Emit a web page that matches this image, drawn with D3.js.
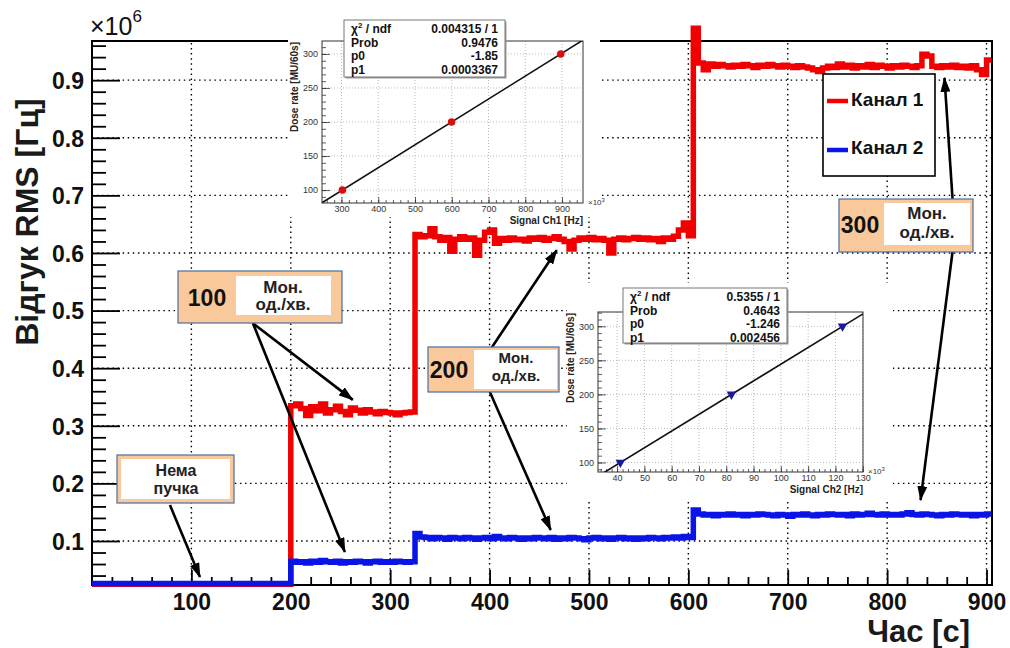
<!DOCTYPE html>
<html>
<head>
<meta charset="utf-8">
<script src="https://cdn.jsdelivr.net/npm/d3@7"></script>
<style>
  body { margin: 0; background: #fff; }
  svg { display: block; font-family: "Liberation Sans", Arial, Helvetica, sans-serif; }
</style>
</head>
<body>
<svg id="chart" width="1010" height="648"></svg>
<script>
/* ---- data (RMS in units of 10^6 Hz, 5 s bins starting at 0 s) ---- */
var binStarts = d3.range(0, 905, 5);
var timeEnd = 905;

var ch1Rms = [
  // 0 - 195 s, no beam
  0.025, 0.025, 0.025, 0.025, 0.025, 0.025, 0.025, 0.025, 0.025, 0.025,
  0.025, 0.025, 0.025, 0.025, 0.025, 0.025, 0.025, 0.025, 0.025, 0.025,
  0.025, 0.025, 0.025, 0.025, 0.025, 0.025, 0.025, 0.025, 0.025, 0.025,
  0.025, 0.025, 0.025, 0.025, 0.025, 0.025, 0.025, 0.025, 0.025, 0.025,
  // 200 - 320 s, 100 MU/min
  0.335, 0.338, 0.330, 0.318, 0.333, 0.326, 0.338, 0.322, 0.328, 0.334,
  0.325, 0.319, 0.331, 0.327, 0.322, 0.328, 0.324, 0.321, 0.325, 0.323,
  0.322, 0.319, 0.322, 0.323, 0.324,
  // 325 - 600 s, 200 MU/min
  0.632, 0.628, 0.630, 0.642, 0.628, 0.622, 0.627, 0.603, 0.624, 0.628,
  0.624, 0.626, 0.596, 0.622, 0.636, 0.640, 0.617, 0.625, 0.622, 0.626,
  0.623, 0.624, 0.621, 0.626, 0.624, 0.627, 0.622, 0.625, 0.628, 0.624,
  0.620, 0.607, 0.622, 0.626, 0.624, 0.627, 0.623, 0.625, 0.622, 0.600,
  0.624, 0.626, 0.623, 0.625, 0.627, 0.624, 0.626, 0.623, 0.625, 0.620,
  0.626, 0.624, 0.629, 0.640, 0.652, 0.630,
  // 605 - 900 s, 300 MU/min
  0.990, 0.930, 0.918, 0.928, 0.924, 0.927, 0.925, 0.923, 0.926, 0.924,
  0.927, 0.925, 0.922, 0.926, 0.924, 0.927, 0.925, 0.923, 0.926, 0.924,
  0.922, 0.925, 0.923, 0.921, 0.918, 0.915, 0.921, 0.924, 0.922, 0.928,
  0.923, 0.926, 0.921, 0.925, 0.923, 0.927, 0.922, 0.926, 0.924, 0.921,
  0.925, 0.923, 0.926, 0.924, 0.922, 0.925, 0.945, 0.942, 0.924, 0.922,
  0.925, 0.923, 0.926, 0.922, 0.924, 0.921, 0.925, 0.918, 0.910, 0.935
];

var ch2Rms = [
  0.026, 0.026, 0.026, 0.026, 0.026, 0.026, 0.026, 0.026, 0.026, 0.026,
  0.026, 0.026, 0.026, 0.026, 0.026, 0.026, 0.026, 0.026, 0.026, 0.026,
  0.026, 0.026, 0.026, 0.026, 0.026, 0.026, 0.026, 0.026, 0.026, 0.026,
  0.026, 0.026, 0.026, 0.026, 0.026, 0.026, 0.026, 0.026, 0.026, 0.026,
  0.065, 0.063, 0.064, 0.062, 0.065, 0.063, 0.066, 0.064, 0.063, 0.065,
  0.062, 0.064, 0.063, 0.065, 0.064, 0.062, 0.064, 0.065, 0.063, 0.064,
  0.063, 0.065, 0.064, 0.063, 0.064,
  0.113, 0.107, 0.106, 0.104, 0.106, 0.105, 0.103, 0.106, 0.105, 0.104,
  0.106, 0.105, 0.103, 0.105, 0.106, 0.104, 0.108, 0.105, 0.104, 0.106,
  0.105, 0.103, 0.105, 0.104, 0.106, 0.105, 0.104, 0.106, 0.103, 0.105,
  0.104, 0.106, 0.105, 0.104, 0.102, 0.105, 0.106, 0.104, 0.105, 0.103,
  0.105, 0.106, 0.104, 0.105, 0.103, 0.105, 0.104, 0.106, 0.105, 0.104,
  0.106, 0.105, 0.107, 0.105, 0.108, 0.106,
  0.154, 0.147, 0.145, 0.146, 0.144, 0.146, 0.145, 0.147, 0.145, 0.146,
  0.144, 0.146, 0.145, 0.147, 0.146, 0.145, 0.144, 0.146, 0.145, 0.143,
  0.146, 0.145, 0.147, 0.145, 0.144, 0.146, 0.145, 0.147, 0.146, 0.145,
  0.146, 0.144, 0.147, 0.145, 0.146, 0.148, 0.146, 0.145, 0.147, 0.145,
  0.146, 0.145, 0.147, 0.149, 0.146, 0.145, 0.147, 0.146, 0.145, 0.144,
  0.146, 0.145, 0.147, 0.146, 0.145, 0.146, 0.144, 0.146, 0.145, 0.147
];

var seriesNames = ["Канал 1", "Канал 2"];
var xTickValues = [100, 200, 300, 400, 500, 600, 700, 800, 900];
var yTickValues = [0.1, 0.2, 0.3, 0.4, 0.5, 0.6, 0.7, 0.8, 0.9];

/* calibration insets: signal in 10^3 Hz vs dose rate in MU/60s */
var doseRates = [100, 200, 300];
var ch1Signal = [302.5, 599.5, 896.5];
var ch2Signal = [41.2, 81.9, 122.6];
var ch1Fit = { p0: -1.85, p1: 0.0003367 };
var ch2Fit = { p0: -1.246, p1: 0.002456 };
var statLabels = ["χ² / ndf", "Prob", "p0", "p1"];
var ch1Stats = ["0.004315 / 1", "0.9476", "-1.85", "0.0003367"];
var ch2Stats = ["0.5355 / 1", "0.4643", "-1.246", "0.002456"];

/* ---- layout ---- */
var svg = d3.select("#chart");
svg.append("rect").attr("width", 1010).attr("height", 648).attr("fill", "#fff");

var x = d3.scaleLinear().domain([0, 905.5]).range([92, 992]);
var y = d3.scaleLinear().domain([0.0236, 0.968]).range([585, 41]);

var RED = "#f00000", BLUE = "#0a14e6";

/* grid */
var grid = svg.append("g").attr("stroke", "#000").attr("stroke-width", 1.4)
  .attr("stroke-dasharray", "1.5 3.6");
grid.selectAll(".vg").data(xTickValues).enter().append("line")
  .attr("x1", function(d) { return x(d); }).attr("x2", function(d) { return x(d); })
  .attr("y1", y.range()[0]).attr("y2", y.range()[1]);
grid.selectAll(".hg").data(yTickValues).enter().append("line")
  .attr("y1", function(d) { return y(d); }).attr("y2", function(d) { return y(d); })
  .attr("x1", x.range()[0]).attr("x2", x.range()[1]);

/* axes */
function styleAxis(g) {
  g.select(".domain").remove();
  g.selectAll("line").attr("stroke", "#000").attr("stroke-width", 1.8);
}
var xMinor = d3.range(20, 905, 20).filter(function(d) { return d % 100 !== 0; });
var yMinor = d3.range(4, 97, 2).map(function(d) { return d / 100; })
  .filter(function(d) { return Math.round(d * 100) % 10 !== 0; });

svg.append("g").attr("transform", "translate(0,585)")
  .call(d3.axisBottom(x).tickValues(xMinor).tickSize(-8).tickFormat(""))
  .call(styleAxis);
var gx = svg.append("g").attr("transform", "translate(0,585)")
  .call(d3.axisBottom(x).tickValues(xTickValues).tickSize(-15).tickPadding(0).tickFormat(d3.format("d")))
  .call(styleAxis);
gx.selectAll("text").attr("y", 25).attr("dy", 0)
  .attr("font-size", 23).attr("font-weight", "bold").attr("fill", "#111")
  .attr("font-family", "Liberation Sans, Arial, sans-serif");

svg.append("g").attr("transform", "translate(92,0)")
  .call(d3.axisLeft(y).tickValues(yMinor).tickSize(-14).tickFormat(""))
  .call(styleAxis);
var gy = svg.append("g").attr("transform", "translate(92,0)")
  .call(d3.axisLeft(y).tickValues(yTickValues).tickSize(-28).tickPadding(0).tickFormat(d3.format(".1f")))
  .call(styleAxis);
gy.selectAll("text").attr("x", -8).attr("dy", "0.36em")
  .attr("font-size", 23).attr("font-weight", "bold").attr("fill", "#111")
  .attr("font-family", "Liberation Sans, Arial, sans-serif");

/* frame */
svg.append("rect").attr("x", x.range()[0]).attr("y", y.range()[1])
  .attr("width", x.range()[1] - x.range()[0]).attr("height", y.range()[0] - y.range()[1])
  .attr("fill", "none").attr("stroke", "#000").attr("stroke-width", 2);

/* exponent and axis titles */
var expo = svg.append("text").attr("x", 90).attr("y", 35).attr("font-size", 25).attr("fill", "#111");
expo.append("tspan").text("×10");
expo.append("tspan").attr("font-size", 17).attr("dy", -13).text("6");

svg.append("text").attr("transform", "translate(38,222) rotate(-90)")
  .attr("text-anchor", "middle").attr("font-size", 32).attr("font-weight", "bold").attr("fill", "#1a1a1a")
  .text("Відгук RMS [Гц]");
svg.append("text").attr("x", 970).attr("y", 642).attr("text-anchor", "end")
  .attr("font-size", 31).attr("font-weight", "bold").attr("fill", "#1a1a1a")
  .text("Час [с]");

/* step histograms */
function stepPoints(vals) {
  var pts = binStarts.map(function(t, i) { return [t, vals[i]]; });
  pts.push([timeEnd, vals[vals.length - 1]]);
  return pts;
}
var line = d3.line().x(function(d) { return x(d[0]); }).y(function(d) { return y(d[1]); })
  .curve(d3.curveStepAfter);
svg.append("path").datum(stepPoints(ch1Rms)).attr("d", line)
  .attr("fill", "none").attr("stroke", RED).attr("stroke-width", 5.5);
svg.append("path").datum(stepPoints(ch2Rms)).attr("d", line)
  .attr("fill", "none").attr("stroke", BLUE).attr("stroke-width", 5.5);

/* legend */
var leg = svg.append("g");
leg.append("rect").attr("x", 823).attr("y", 74).attr("width", 112).attr("height", 102)
  .attr("fill", "#fff").attr("stroke", "#000").attr("stroke-width", 1.6);
[RED, BLUE].forEach(function(c, i) {
  leg.append("line").attr("x1", 827).attr("x2", 848).attr("y1", 101 + i * 49).attr("y2", 101 + i * 49)
    .attr("stroke", c).attr("stroke-width", 4.5);
  leg.append("text").attr("x", 851).attr("y", 106 + i * 48).attr("font-size", 19)
    .attr("font-weight", "bold").attr("fill", "#111").text(seriesNames[i]);
});

/* calibration insets */
function drawInset(cfg) {
  var g = svg.append("g");
  g.append("rect").attr("x", cfg.pad[0]).attr("y", cfg.pad[1])
    .attr("width", cfg.pad[2]).attr("height", cfg.pad[3]).attr("fill", "#fff");

  var sx = d3.scaleLinear().domain(cfg.xDomain).range([cfg.left, cfg.right]);
  var sy = d3.scaleLinear().domain(cfg.yDomain).range([cfg.bottom, cfg.top]);

  var gg = g.append("g").attr("stroke", "#aaa").attr("stroke-width", 0.8).attr("stroke-dasharray", "1 2");
  cfg.xTicks.forEach(function(d) {
    gg.append("line").attr("x1", sx(d)).attr("x2", sx(d)).attr("y1", cfg.top).attr("y2", cfg.bottom);
  });
  cfg.yTicks.forEach(function(d) {
    gg.append("line").attr("y1", sy(d)).attr("y2", sy(d)).attr("x1", cfg.left).attr("x2", cfg.right);
  });

  function thin(a) {
    a.select(".domain").remove();
    a.selectAll("line").attr("stroke", "#333").attr("stroke-width", 0.8);
    a.selectAll("text").attr("font-size", 9).attr("fill", "#333")
      .attr("font-family", "Liberation Sans, Arial, sans-serif");
  }
  g.append("g").attr("transform", "translate(0," + cfg.bottom + ")")
    .call(d3.axisBottom(sx).tickValues(cfg.xMinor).tickSize(-3).tickFormat("")).call(thin);
  g.append("g").attr("transform", "translate(0," + cfg.bottom + ")")
    .call(d3.axisBottom(sx).tickValues(cfg.xTicks).tickSize(-6).tickPadding(3)).call(thin);
  g.append("g").attr("transform", "translate(" + cfg.left + ",0)")
    .call(d3.axisLeft(sy).tickValues(cfg.yMinor).tickSize(-4).tickFormat("")).call(thin);
  g.append("g").attr("transform", "translate(" + cfg.left + ",0)")
    .call(d3.axisLeft(sy).tickValues(cfg.yTicks).tickSize(-8).tickPadding(4)).call(thin);

  g.append("rect").attr("x", cfg.left).attr("y", cfg.top)
    .attr("width", cfg.right - cfg.left).attr("height", cfg.bottom - cfg.top)
    .attr("fill", "none").attr("stroke", "#333").attr("stroke-width", 1);

  var clipId = "clip" + cfg.id;
  g.append("clipPath").attr("id", clipId).append("rect")
    .attr("x", cfg.left).attr("y", cfg.top)
    .attr("width", cfg.right - cfg.left).attr("height", cfg.bottom - cfg.top);
  var fx = cfg.xDomain;
  g.append("line").attr("clip-path", "url(#" + clipId + ")")
    .attr("x1", sx(fx[0])).attr("y1", sy(cfg.fit.p0 + cfg.fit.p1 * 1000 * fx[0]))
    .attr("x2", sx(fx[1])).attr("y2", sy(cfg.fit.p0 + cfg.fit.p1 * 1000 * fx[1]))
    .attr("stroke", "#111").attr("stroke-width", 1.6);

  var sym = d3.symbol().type(cfg.marker === "circle" ? d3.symbolCircle : d3.symbolTriangle)
    .size(cfg.marker === "circle" ? 44 : 40);
  g.selectAll(".pt").data(cfg.signal).enter().append("path")
    .attr("d", sym)
    .attr("transform", function(d, i) {
      return "translate(" + sx(d) + "," + sy(doseRates[i]) + ")" + (cfg.marker === "circle" ? "" : " rotate(180)");
    })
    .attr("fill", cfg.color);

  var ex = g.append("text").attr("x", cfg.right + 5).attr("y", cfg.bottom + 2).attr("font-size", 8).attr("fill", "#333");
  ex.append("tspan").text("×10");
  ex.append("tspan").attr("font-size", 6).attr("dy", -3).text("3");

  g.append("text").attr("x", cfg.right).attr("y", cfg.bottom + 21).attr("text-anchor", "end")
    .attr("font-size", 10).attr("font-weight", "bold").attr("fill", "#222").text(cfg.xTitle);
  g.append("text").attr("transform", "translate(" + (cfg.left - 24) + "," + (cfg.top + 1) + ") rotate(-90)")
    .attr("text-anchor", "end").attr("font-size", 10).attr("font-weight", "bold").attr("fill", "#222")
    .text("Dose rate [MU/60s]");

  var b = cfg.statBox;
  g.append("rect").attr("x", b[0] + 1.5).attr("y", b[1] + 1.5).attr("width", b[2]).attr("height", b[3]).attr("fill", "#999");
  g.append("rect").attr("x", b[0]).attr("y", b[1]).attr("width", b[2]).attr("height", b[3])
    .attr("fill", "#fff").attr("stroke", "#777").attr("stroke-width", 1);
  statLabels.forEach(function(lbl, i) {
    var yy = b[1] + 13 + i * 13.5;
    var t = g.append("text").attr("x", b[0] + 7).attr("y", yy).attr("font-size", 12)
      .attr("font-weight", "bold").attr("fill", "#111");
    if (i === 0) {
      t.append("tspan").text("χ");
      t.append("tspan").attr("font-size", 8).attr("dy", -5).text("2");
      t.append("tspan").attr("dy", 5).text(" / ndf");
    } else {
      t.text(lbl);
    }
    g.append("text").attr("x", b[0] + b[2] - 7).attr("y", yy).attr("text-anchor", "end")
      .attr("font-size", 12).attr("font-weight", "bold").attr("fill", "#111").text(cfg.stats[i]);
  });
}

drawInset({
  id: 1, pad: [288, 12, 312, 205],
  left: 322, right: 583, top: 41, bottom: 203,
  xDomain: [247, 957], yDomain: [81, 319],
  xTicks: [300, 400, 500, 600, 700, 800, 900],
  xMinor: d3.range(260, 957, 20),
  yTicks: [100, 150, 200, 250, 300],
  yMinor: d3.range(90, 319, 10),
  signal: ch1Signal, fit: ch1Fit, color: "#d81010", marker: "circle",
  xTitle: "Signal Ch1 [Hz]", stats: ch1Stats, statBox: [344, 20, 161, 57]
});
drawInset({
  id: 2, pad: [567, 283, 326, 217],
  left: 598, right: 863, top: 312, bottom: 472,
  xDomain: [33, 130.1], yDomain: [86, 321],
  xTicks: [40, 50, 60, 70, 80, 90, 100, 110, 120, 130],
  xMinor: d3.range(34, 130.1, 2),
  yTicks: [100, 150, 200, 250, 300],
  yMinor: d3.range(90, 321, 10),
  signal: ch2Signal, fit: ch2Fit, color: "#1a1aa0", marker: "triangle",
  xTitle: "Signal Ch2 [Hz]", stats: ch2Stats, statBox: [623, 288, 164, 55]
});

/* annotation arrows (data coordinates: time, RMS) */
var arrows = [
  [[78.4, 0.1625], [108.6, 0.0375]],
  [[161.9, 0.478], [262.4, 0.345]],
  [[161.9, 0.478], [254.4, 0.081]],
  [[402.2, 0.436], [467.6, 0.605]],
  [[400.2, 0.359], [461.5, 0.119]],
  [[865.8, 0.694], [857.7, 0.904]],
  [[865.8, 0.602], [833.6, 0.171]]
];
svg.append("defs").append("marker").attr("id", "head")
  .attr("viewBox", "0 -5 15 10").attr("refX", 14).attr("refY", 0)
  .attr("markerWidth", 15).attr("markerHeight", 10).attr("markerUnits", "userSpaceOnUse")
  .attr("orient", "auto")
  .append("path").attr("d", "M0,-5L15,0L0,5Z").attr("fill", "#000");
svg.append("g").selectAll("line").data(arrows).enter().append("line")
  .attr("x1", function(d) { return x(d[0][0]); }).attr("y1", function(d) { return y(d[0][1]); })
  .attr("x2", function(d) { return x(d[1][0]); }).attr("y2", function(d) { return y(d[1][1]); })
  .attr("stroke", "#000").attr("stroke-width", 2.6).attr("marker-end", "url(#head)");

/* annotation boxes */
var notes = [
  { box: [117, 455, 117, 48], inner: [121, 459, 109, 40], big: null, cx: 176, lines: ["Нема", "пучка"], ly: [476, 494], fs: 16 },
  { box: [178, 271, 164, 52], inner: [236, 276, 95, 39], big: "100", bx: 207, by: 306, cx: 283, lines: ["Мон.", "од./хв."], ly: [293, 310], fs: 17 },
  { box: [428, 347, 131, 45], inner: [474, 350, 83, 39], big: "200", bx: 449, by: 378, cx: 516, lines: ["Мон.", "од./хв."], ly: [363, 381], fs: 15 },
  { box: [839, 199, 134, 53], inner: [884, 203, 86, 42], big: "300", bx: 860, by: 233, cx: 927, lines: ["Мон.", "од./хв."], ly: [219, 238], fs: 17 }
];
notes.forEach(function(n) {
  var g = svg.append("g");
  g.append("rect").attr("x", n.box[0]).attr("y", n.box[1]).attr("width", n.box[2]).attr("height", n.box[3])
    .attr("fill", "#f9c89b").attr("stroke", "#4a6fa0").attr("stroke-width", 1.2);
  g.append("rect").attr("x", n.inner[0]).attr("y", n.inner[1]).attr("width", n.inner[2]).attr("height", n.inner[3])
    .attr("fill", "#fff");
  if (n.big) {
    g.append("text").attr("x", n.bx).attr("y", n.by).attr("text-anchor", "middle")
      .attr("font-size", 23).attr("font-weight", "bold").attr("fill", "#111").text(n.big);
  }
  n.lines.forEach(function(l, i) {
    g.append("text").attr("x", n.cx).attr("y", n.ly[i]).attr("text-anchor", "middle")
      .attr("font-size", n.fs).attr("font-weight", "bold").attr("fill", "#222").text(l);
  });
});
</script>
</body>
</html>
